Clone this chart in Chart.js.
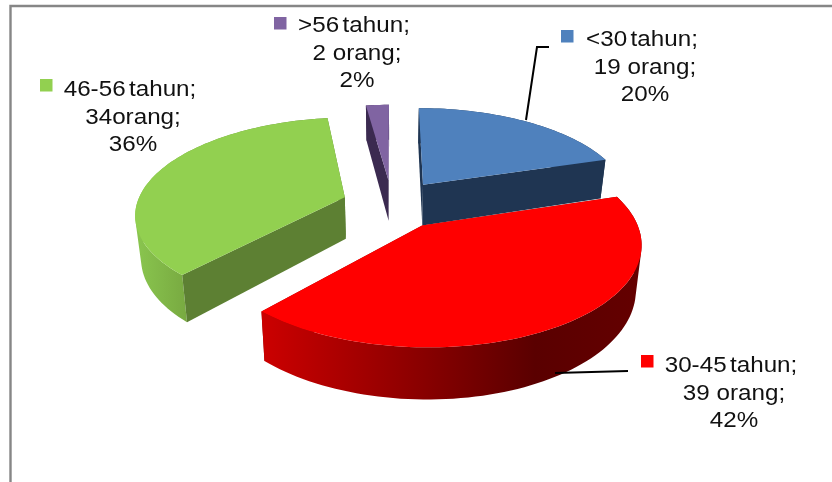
<!DOCTYPE html>
<html>
<head>
<meta charset="utf-8">
<title>Usia</title>
<script src="https://cdn.jsdelivr.net/npm/chart.js@4"></script>
<style>
  html, body { margin: 0; padding: 0; background: #fff; }
  canvas { display: block; }
</style>
</head>
<body>
<canvas id="chart1" width="832" height="482"></canvas>
<script>
// DATA
const categories = ["<30 tahun;", "30-45 tahun;", "46-56 tahun;", ">56 tahun;"];
const orang = [19, 39, 34, 2];
const orangLabels = ["19 orang;", "39 orang;", "34orang;", "2 orang;"];
const percentLabels = ["20%", "42%", "36%", "2%"];

// COLOURS
const topColors = ["#4f81bd", "#ff0000", "#92d050", "#8064a2"];
const sideColors = ["#1f3552", "#8a0000", "#5d8033", "#3b2a50"];
const wallStops = [
  [[0, "#1f3552"], [1, "#1f3552"]],
  [[0, "#cc0000"], [0.72, "#5a0000"], [1, "#640000"]],
  [[0, "#8ac64f"], [0.3, "#76a63f"], [1, "#5d8033"]],
  [[0, "#3b2a50"], [1, "#3b2a50"]],
];

// FAKE 3D CAMERA
const SQUASH = 0.455;
const PERSPECTIVE = 0.00077;
const DEPTH = 42;
const BOTTOM_SHRINK = 0.977;

function project(cx, cy, wx, wy, bottom) {
  const w = 1 - PERSPECTIVE * wy;
  return {
    x: cx + (wx / w) * (bottom ? BOTTOM_SHRINK : 1),
    y: cy + (SQUASH * wy) / w + (bottom ? DEPTH / w : 0),
  };
}

function tracePoly(ctx, pts) {
  pts.forEach((p, i) => (i ? ctx.lineTo(p.x, p.y) : ctx.moveTo(p.x, p.y)));
  ctx.closePath();
}

function fillPoly(ctx, pts, fill) {
  ctx.beginPath();
  tracePoly(ctx, pts);
  ctx.fillStyle = fill;
  ctx.fill();
}

// signed area, used to keep all wall quads wound the same way
function area(q) {
  let t = 0;
  q.forEach((p, i) => {
    const n = q[(i + 1) % q.length];
    t += p.x * n.y - n.x * p.y;
  });
  return t;
}

// draws one slice from the arc element that chart.js worked out
function drawSlice(ctx, arc, i) {
  const { x: cx, y: cy, startAngle, endAngle, outerRadius } = arc;
  const mid = (startAngle + endAngle) / 2;
  const ax = Math.cos(mid) * arc.options.offset;
  const ay = Math.sin(mid) * arc.options.offset;

  const rim = [];
  const steps = Math.max(2, Math.ceil((endAngle - startAngle) / 0.03));
  for (let s = 0; s <= steps; s++) {
    const a = startAngle + ((endAngle - startAngle) * s) / steps;
    rim.push([ax + Math.cos(a) * outerRadius, ay + Math.sin(a) * outerRadius]);
  }
  const up = (p) => project(cx, cy, p[0], p[1], false);
  const down = (p) => project(cx, cy, p[0], p[1], true);
  const apex = [ax, ay];
  const first = rim[0];
  const last = rim[rim.length - 1];

  const allX = rim.map(up).concat(rim.map(down)).map((p) => p.x);
  const grad = ctx.createLinearGradient(Math.min(...allX), 0, Math.max(...allX), 0);
  wallStops[i].forEach((st) => grad.addColorStop(st[0], st[1]));

  const meanY = (list) => list.reduce((t, p) => t + p[1], 0) / list.length;
  // outer wall is one path of small quads so the side silhouette has no notch
  const wall = () => {
    ctx.beginPath();
    for (let s = 0; s < rim.length - 1; s++) {
      const q = [up(rim[s]), up(rim[s + 1]), down(rim[s + 1]), down(rim[s])];
      tracePoly(ctx, area(q) < 0 ? q.reverse() : q);
    }
    ctx.fillStyle = grad;
    ctx.fill();
  };
  const radial = (edge) => () =>
    fillPoly(ctx, [up(apex), up(edge), down(edge), down(apex)], sideColors[i]);

  const faces = [
    { y: meanY(rim), paint: wall },
    { y: meanY([apex, first]), paint: radial(first) },
    { y: meanY([apex, last]), paint: radial(last) },
  ];
  faces.sort((a, b) => a.y - b.y);
  faces.forEach((f) => f.paint());
  fillPoly(ctx, [up(apex)].concat(rim.map(up)), topColors[i]);
}

const pie3d = {
  id: "pie3d",
  beforeDatasetDraw(chart) {
    const ctx = chart.ctx;
    const arcs = chart.getDatasetMeta(0).data;
    const order = arcs.map((a, i) => i);
    const midSin = (a) => Math.sin((a.startAngle + a.endAngle) / 2);
    order.sort((p, q) => midSin(arcs[p]) - midSin(arcs[q]));
    ctx.save();
    order.forEach((i) => drawSlice(ctx, arcs[i], i));
    ctx.restore();
    return false; // replaces the flat pie
  },
};

// frame, leader lines and the data labels
const annotations = {
  id: "annotations",
  beforeDatasetsDraw(chart, args, opts) {
    const ctx = chart.ctx;
    ctx.save();
    ctx.strokeStyle = opts.frameColor;
    ctx.lineWidth = 2.4;
    ctx.beginPath();
    ctx.moveTo(10.5, 482);
    ctx.lineTo(10.5, 6);
    ctx.lineTo(832, 6);
    ctx.stroke();
    ctx.restore();
  },
  afterDatasetsDraw(chart, args, opts) {
    const ctx = chart.ctx;
    ctx.save();
    ctx.strokeStyle = "#000";
    ctx.lineWidth = 2;
    opts.leaders.forEach((line) => {
      ctx.beginPath();
      line.forEach((p, i) => (i ? ctx.lineTo(p[0], p[1]) : ctx.moveTo(p[0], p[1])));
      ctx.stroke();
    });
    ctx.font = '22px "Liberation Sans", Arial, sans-serif';
    ctx.textAlign = "center";
    ctx.textBaseline = "alphabetic";
    opts.spots.forEach((s, i) => {
      ctx.fillStyle = topColors[i];
      ctx.fillRect(s.key[0], s.key[1], 12.5, 12.5);
      ctx.fillStyle = "#111";
      [categories[i], orangLabels[i], percentLabels[i]].forEach((txt, n) => {
        ctx.save();
        // first line has the tight word gap of the original
        ctx.wordSpacing = n === 0 ? "-3px" : "0px";
        ctx.translate(s.x - (n === 0 ? 3 : 0), s.y + n * 27.7);
        ctx.scale(1.1, 1);
        ctx.fillText(txt, 0, 0);
        ctx.restore();
      });
    });
    ctx.restore();
  },
};

new Chart(document.getElementById("chart1").getContext("2d"), {
  type: "pie",
  data: {
    labels: categories,
    datasets: [
      {
        data: orang,
        backgroundColor: topColors,
        offset: [54, 54, 50, 54],
        borderWidth: 0,
      },
    ],
  },
  options: {
    responsive: false,
    animation: false,
    radius: 208,
    layout: { padding: { left: 0, right: 48, top: 0, bottom: 74 } },
    plugins: {
      legend: { display: false },
      tooltip: { enabled: false },
      annotations: {
        frameColor: "#868686",
        leaders: [
          [[526, 120], [537, 47], [549, 47]],
          [[555, 373], [628, 371]],
        ],
        spots: [
          { x: 645, y: 46, key: [561, 30] },
          { x: 734, y: 372, key: [641, 355] },
          { x: 133, y: 96, key: [40, 79] },
          { x: 357, y: 32, key: [274, 17] },
        ],
      },
    },
  },
  plugins: [pie3d, annotations],
});
</script>
</body>
</html>
